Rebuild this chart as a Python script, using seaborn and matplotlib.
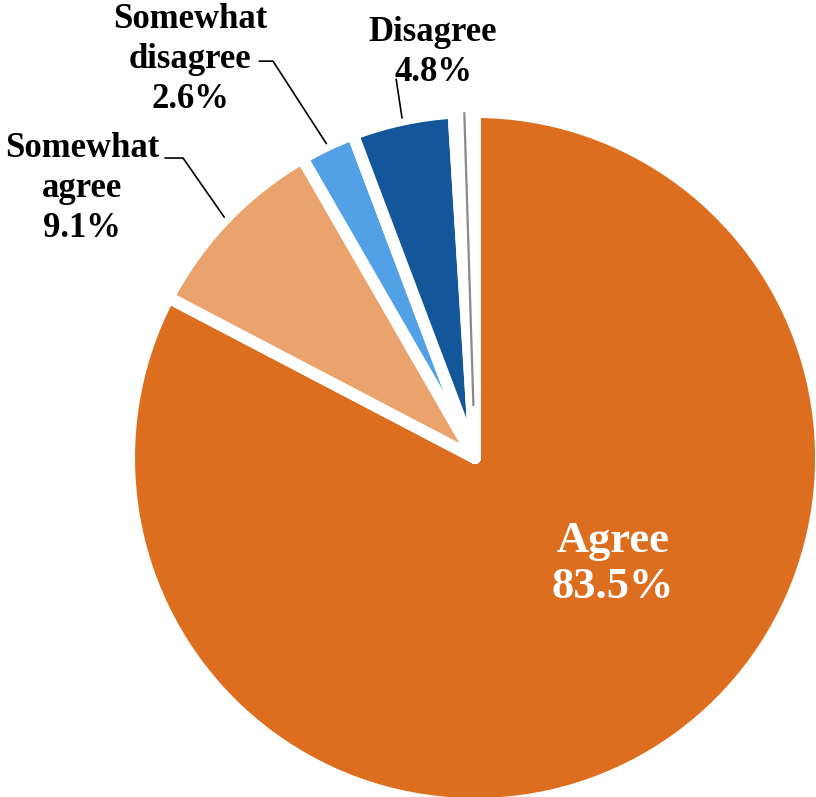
import numpy as np
import seaborn as sns
import matplotlib.pyplot as plt

# --- data ---
labels = ['Agree', 'Somewhat agree', 'Somewhat disagree', 'Disagree', '']
values = [83.5, 9.1, 2.6, 4.8, 1.0]
pct_text = ['83.5%', '9.1%', '2.6%', '4.8%', '']
colors = ['#DD6E1F', '#EBA36E', '#52A1E6', '#13569A', '#FFFFFF']

sns.set_theme(style='white')
plt.rcParams['font.family'] = ['Liberation Serif', 'DejaVu Serif']

fig = plt.figure(figsize=(8.16, 7.97), dpi=100)
ax = fig.add_axes([0, 0, 1, 1])

wedges, _ = ax.pie(
    values,
    colors=colors,
    startangle=90,
    counterclock=False,
    radius=1.0,
    center=(0, 0),
    wedgeprops=dict(edgecolor='white', linewidth=8.6, joinstyle='round'),
)

# keep the pie at the same spot / scale as the reference (346 px per unit)
ax.set_xlim(-1.373, 0.9855)
ax.set_ylim(-0.9798, 1.3237)
ax.set_aspect('equal')
ax.axis('off')


def mid_point(w, r=1.0):
    ang = np.deg2rad((w.theta1 + w.theta2) / 2)
    return r * np.cos(ang), r * np.sin(ang)


# near-zero slice shown as a thin grey line
x0, y0 = mid_point(wedges[4], 0.15)
x1, y1 = mid_point(wedges[4], 1.0)
ax.plot([x0, x1], [y0, y1], color='#8a8a8a', lw=1.6, solid_capstyle='butt')

# inside label for Agree
ax.text(0.399, -0.306, f'{labels[0]}\n{pct_text[0]}', color='white',
        fontsize=32, fontweight='bold', ha='center', va='center', linespacing=1.2)

# outside labels with leader lines
outside = [
    # idx, text pos, stub start, elbow
    (1, (-1.136, 0.780), (-0.896, 0.867), (-0.844, 0.867)),
    (2, (-0.824, 1.153), (-0.624, 1.147), (-0.584, 1.147)),
]
for idx, tpos, stub, elbow in outside:
    txt = labels[idx].replace(' ', '\n') + '\n' + pct_text[idx]
    ax.text(*tpos, txt, fontsize=25, fontweight='bold', ha='center', va='center',
            linespacing=1.28, color='black')
    ex, ey = mid_point(wedges[idx], 1.005)
    ax.plot([stub[0], elbow[0], ex], [stub[1], elbow[1], ey], color='black', lw=1.2)

# Disagree: straight leader
ax.text(-0.121, 1.172, f'{labels[3]}\n{pct_text[3]}', fontsize=25, fontweight='bold',
        ha='center', va='center', linespacing=1.28, color='black')
ex, ey = mid_point(wedges[3], 1.005)
ax.plot([-0.228, ex], [1.095, ey], color='black', lw=1.2)

fig.savefig('out.png', dpi=100)
